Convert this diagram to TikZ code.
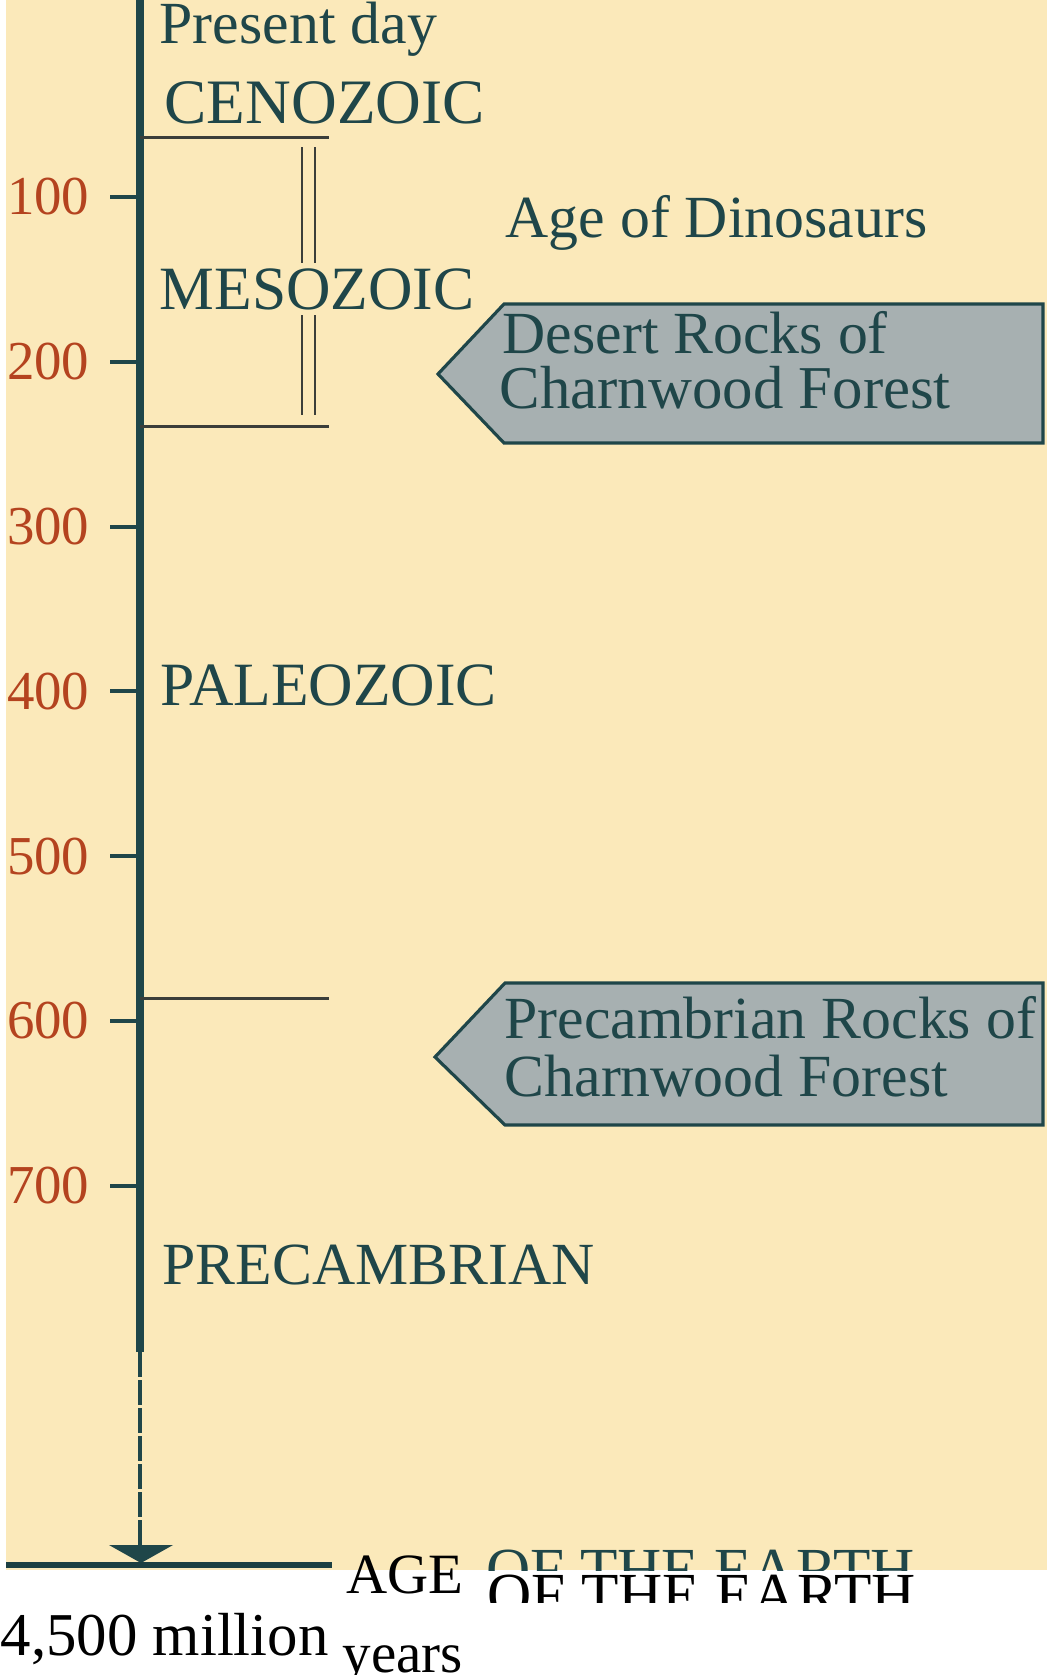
\documentclass[tikz,border=0pt]{standalone}
\usepackage{fontspec}
\setmainfont{Liberation Serif}
\usepackage{tikz}
\usetikzlibrary{calc,positioning}
\definecolor{paper}{HTML}{FBE9BA}
\definecolor{ink}{HTML}{1F4649}
\definecolor{rust}{HTML}{B4431F}
\definecolor{slate}{HTML}{A7B0B1}
\definecolor{rule}{HTML}{3B3E3A}

\begin{document}
\begin{tikzpicture}[x=0.01cm, y=-0.01cm,
  era/.style={anchor=base west, inner sep=0pt, text=ink, font=\fontsize{17}{20}\selectfont},
  mya/.style={anchor=east, inner sep=0pt, text=rust, font=\fontsize{15.6}{18}\selectfont},
  pastetext/.style={anchor=base west, inner sep=0pt, text=black, font=\fontsize{16.2}{19}\selectfont},
  boundary/.style={draw=rule, line width=0.85pt},
  sign/.style={fill=slate, draw=ink, line width=0.9pt, line join=miter}]
\useasboundingbox (0,0) rectangle (1047,1675);
\fill[white] (0,0) rectangle (1047,1675);
\fill[paper] (6,0) rectangle (1047,1570);

% --- asse del tempo ---
\coordinate (top) at (140,0);
\coordinate (solidend) at (140,1352);
\coordinate (dashend) at (140,1546);
\coordinate (tip) at (141,1563);
\draw[ink, line width=2pt] (top) -- (solidend);
\draw[ink, line width=1.1pt, dash pattern=on 0.25cm off 0.03cm] (solidend) -- (dashend);
\fill[ink] (109,1545) -- (173,1545) -- (tip) -- cycle;
\coordinate (baseL) at (6,1565);
\coordinate (baseR) at (332,1565);
\draw[ink!90!black, line width=1.7pt] (baseL) -- (baseR);

% --- tacche in milioni di anni ---
\foreach \k in {1,...,7} {
  \coordinate (t\k) at (140,{197+164.8*(\k-1)});
  \draw[ink, line width=1.1pt] (t\k) -- ++(-30,0) coordinate (tl\k);
  \node[mya] (n\k) at ($(tl\k)+(-20,0)$) {\k00};
}

% --- limiti delle ere ---
\foreach \y in {137,426,998}
  \draw[boundary] (140,\y) -- (329,\y);
\draw[rule, line width=0.7pt] (302,147) -- (302,263) (315,147) -- (315,263)
  (302,315) -- (302,415) (315,315) -- (315,415);

% --- nomi delle ere ---
\node[era] (present) at (159,43) {Present day};
\node[era, font=\fontsize{18}{21}\selectfont] (ceno) at (164,123) {CENOZOIC};
\node[era, font=\fontsize{17.5}{21}\selectfont] (meso) at (159,309) {MESOZOIC};
\node[era] (dino) at (505,237) {Age of Dinosaurs};
\node[era, font=\fontsize{17.5}{21}\selectfont] (paleo) at (160,705) {PALEOZOIC};
\node[era] (precam) at (162,1284) {PRECAMBRIAN};

% --- cartelli ---
\draw[sign] (438,374) -- (504,304) -- (1043,304) -- (1043,443) -- (504,443) -- cycle;
\node[era] (desert1) at (502,353) {Desert Rocks of};
\node[era, font=\fontsize{17.3}{20}\selectfont] (desert2) at (499,408) {Charnwood Forest};
\draw[sign] (435,1057) -- (505,983) -- (1043,983) -- (1043,1125) -- (505,1125) -- cycle;
\node[era] (precam1) at (504,1038) {Precambrian Rocks of};
\node[era] (precam2) at (504,1096) {Charnwood Forest};

% --- scritte in fondo ---
\begin{scope}
  \clip (0,0) rectangle (1047,1570);
  \node[era, font=\fontsize{17.4}{20}\selectfont] (ghost) at (486,1590) {OF THE EARTH};
\end{scope}
\node[pastetext] (age) at (346,1593) {AGE};
\begin{scope}
  \clip (0,1570) rectangle (1047,1602);
  \node[pastetext, font=\fontsize{17.4}{20}\selectfont] (earth) at (487,1615) {OF THE EARTH};
\end{scope}
\node[pastetext, font=\fontsize{17.3}{20}\selectfont] (million) at (0,1655) {4,500 million};
\node[pastetext] (years) at (342,1672) {years};
\end{tikzpicture}
\end{document}
